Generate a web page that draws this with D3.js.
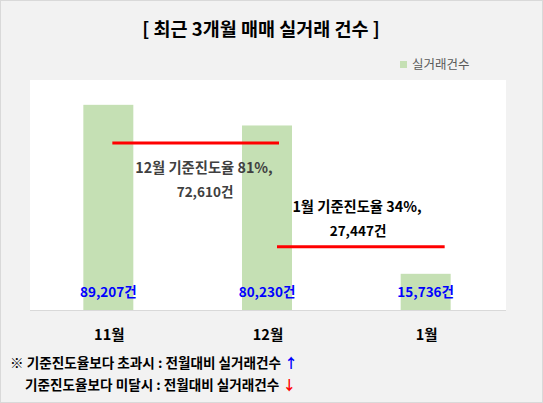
<!DOCTYPE html>
<html>
<head>
<meta charset="utf-8">
<script src="https://cdn.jsdelivr.net/npm/d3@7"></script>
<style>
  body { margin: 0; background: #fff; }
  text { font-family: "Noto Sans CJK KR", "Noto Sans", sans-serif; }
</style>
</head>
<body>
<div id="chart"></div>
<script>
var months = ['11월', '12월', '1월'];
var counts = [89207, 80230, 15736];
var countLabels = ['89,207건', '80,230건', '15,736건'];

// 기준진도율 lines: value, from band / to band
var refValues = [72610, 27447];
var refFrom = ['11월', '12월'];
var refTo = ['12월', '1월'];
var refText1 = ['12월 기준진도율 81%,', '1월 기준진도율 34%,'];
var refText2 = ['72,610건', '27,447건'];

var title = '[ 최근 3개월 매매 실거래 건수 ]';
var legendLabel = '실거래건수';
var notes = ['※ 기준진도율보다 초과시 : 전월대비 실거래건수 ', '기준진도율보다 미달시 : 전월대비 실거래건수 '];
var noteArrows = ['↑', '↓'];

var width = 543, height = 403;
var plot = { left: 30, right: 506, top: 80, bottom: 310 };

var svg = d3.select('#chart').append('svg')
  .attr('width', width)
  .attr('height', height);

svg.append('rect')
  .attr('x', 0.5).attr('y', 0.5)
  .attr('width', width - 1).attr('height', height - 1)
  .attr('fill', '#f2f2f2')
  .attr('stroke', '#d9d9d9');

svg.append('rect')
  .attr('x', plot.left).attr('y', plot.top)
  .attr('width', plot.right - plot.left).attr('height', plot.bottom - plot.top)
  .attr('fill', '#ffffff');

var x = d3.scaleBand()
  .domain(months)
  .range([plot.left, plot.right])
  .paddingInner(0.685)
  .paddingOuter(0.3425);

var y = d3.scaleLinear()
  .domain([0, 100000])
  .range([plot.bottom, plot.top]);

var cx = function(m) { return x(m) + x.bandwidth() / 2; };

// bars
svg.selectAll('rect.bar')
  .data(counts)
  .enter()
  .append('rect')
  .attr('class', 'bar')
  .attr('x', function(d, i) { return x(months[i]) - 1; })
  .attr('y', function(d) { return y(d); })
  .attr('width', x.bandwidth())
  .attr('height', function(d) { return y(0) - y(d); })
  .attr('fill', '#c5e0b4');

// baseline
svg.append('line')
  .attr('x1', plot.left).attr('x2', plot.right)
  .attr('y1', plot.bottom + 0.5).attr('y2', plot.bottom + 0.5)
  .attr('stroke', '#d9d9d9')
  .attr('stroke-width', 1);

// red reference lines
svg.selectAll('line.ref')
  .data(refValues)
  .enter()
  .append('line')
  .attr('class', 'ref')
  .attr('x1', function(d, i) { return cx(refFrom[i]) + (i == 0 ? 3 : 9); })
  .attr('x2', function(d, i) { return cx(refTo[i]) + (i == 0 ? 11 : 18); })
  .attr('y1', function(d) { return y(d); })
  .attr('y2', function(d) { return y(d); })
  .attr('stroke', '#ff0000')
  .attr('stroke-width', 3);

// reference annotations
var annColors = ['#404040', '#000000'];
var annX = [204, 357];
var annY = [168, 207];
refValues.forEach(function(v, i) {
  svg.append('text')
    .attr('x', annX[i]).attr('y', annY[i])
    .attr('dy', '0.35em')
    .attr('text-anchor', 'middle')
    .attr('font-size', '14.3px')
    .attr('font-weight', 'bold')
    .attr('fill', annColors[i])
    .text(refText1[i]);
  svg.append('text')
    .attr('x', annX[i] + 1).attr('y', annY[i] + 24)
    .attr('dy', '0.35em')
    .attr('text-anchor', 'middle')
    .attr('font-size', '13.5px')
    .attr('font-weight', 'bold')
    .attr('fill', annColors[i])
    .text(refText2[i]);
});

// value labels
svg.selectAll('text.val')
  .data(countLabels)
  .enter()
  .append('text')
  .attr('class', 'val')
  .attr('x', function(d, i) { return cx(months[i]) - 1; })
  .attr('y', 292)
  .attr('dy', '0.35em')
  .attr('text-anchor', 'middle')
  .attr('font-size', '13.5px')
  .attr('font-weight', 'bold')
  .attr('fill', '#0000ff')
  .text(function(d) { return d; });

// category axis
var xAxis = svg.append('g')
  .attr('transform', 'translate(0,' + plot.bottom + ')')
  .call(d3.axisBottom(x).tickSize(0).tickPadding(20));
xAxis.select('.domain').remove();
xAxis.selectAll('text')
  .attr('font-size', '14.5px')
  .attr('font-weight', 'bold')
  .attr('fill', '#000')
  .attr('font-family', '"Noto Sans CJK KR", sans-serif');

// title
svg.append('text')
  .attr('x', 261).attr('y', 30)
  .attr('dy', '0.35em')
  .attr('text-anchor', 'middle')
  .attr('font-size', '18.5px')
  .attr('font-weight', 'bold')
  .attr('fill', '#000')
  .text(title);

// legend
svg.append('rect')
  .attr('x', 400).attr('y', 61)
  .attr('width', 7).attr('height', 7)
  .attr('fill', '#c5e0b4');
svg.append('text')
  .attr('x', 412).attr('y', 65)
  .attr('dy', '0.35em')
  .attr('font-size', '12.5px')
  .attr('fill', '#595959')
  .text(legendLabel);

// notes
var arrowColors = ['#0000ff', '#ff0000'];
var noteX = [10, 25];
var noteY = [363, 385];
notes.forEach(function(n, i) {
  var t = svg.append('text')
    .attr('x', noteX[i]).attr('y', noteY[i])
    .attr('dy', '0.35em')
    .attr('font-size', '13.6px')
    .attr('font-weight', 'bold')
    .attr('fill', '#000');
  t.append('tspan').text(n);
  t.append('tspan').attr('fill', arrowColors[i]).text(noteArrows[i]);
});
</script>
</body>
</html>
